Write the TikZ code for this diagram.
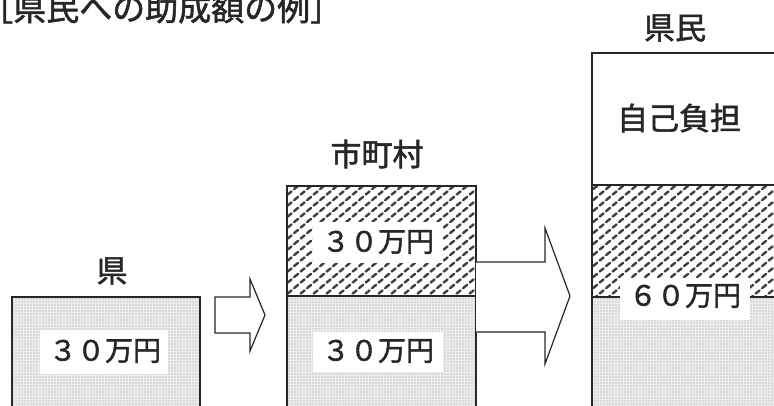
\documentclass[tikz,border=0pt]{standalone}
\usepackage{fontspec}
\newfontfamily\jp{Noto Sans CJK JP}[FakeBold=1.6]
\usetikzlibrary{patterns}
\pgfdeclarepatternformonly{myfdots}{\pgfqpoint{-1pt}{-1pt}}{\pgfqpoint{4pt}{4pt}}{\pgfqpoint{3pt}{3pt}}{%
  \pgfpathcircle{\pgfqpoint{1pt}{1pt}}{0.7pt}\pgfusepath{fill}}
\pgfdeclarepatternformonly{mybricks}{\pgfqpoint{-2pt}{-2pt}}{\pgfqpoint{15pt}{13pt}}{\pgfqpoint{13pt}{11pt}}{%
  \pgfsetlinewidth{2.4pt}\pgfsetroundcap
  \pgfpathmoveto{\pgfqpoint{1.6pt}{1.4pt}}\pgfpathlineto{\pgfqpoint{5.6pt}{4.6pt}}
  \pgfpathmoveto{\pgfqpoint{8.1pt}{6.9pt}}\pgfpathlineto{\pgfqpoint{12.1pt}{10.1pt}}
  \pgfusepath{stroke}}
\tikzset{
  dotted area/.style={fill=gray!14, postaction={pattern=myfdots, pattern color=gray!80}},
  brick area/.style={fill=white, postaction={pattern=mybricks, pattern color=black!75}},
  barline/.style={draw=black!85, line width=1.2pt},
  lbl/.style={font=\jp\fontsize{31}{31}\selectfont, text=black!85, inner sep=0pt},
  ttl/.style={font=\jp\fontsize{33}{33}\selectfont, text=black!85, inner sep=0pt},
  amt/.style={font=\jp\fontsize{28}{28}\selectfont, text=black!85, inner sep=0pt},
  blockarrow/.style={draw=black!85, line width=1.2pt, fill=white, line join=miter}
}
\begin{document}
\begin{tikzpicture}[x=1pt,y=-1pt]
\useasboundingbox (0,0) rectangle (774,405);
\clip (0,0) rectangle (774,405);

% title
\node[ttl, anchor=west] (title) at (-20,8) {［県民への助成額の例］};

% bar 1: 県
\fill[dotted area] (12,297) rectangle (200,420);
\draw[barline] (12,420) -- (12,297) -- (200,297) -- (200,420);
\node[lbl] (kenlbl) at (112,271) {県};
\fill[white] (40,330) rectangle (168,374);
\node[amt] (ken30) at (105,351) {３０万円};

% arrow 1
\draw[blockarrow] (215,297) -- (250,297) -- (250,279) -- (265,315) -- (250,351) -- (250,333) -- (215,333) -- cycle;

% bar 2: 市町村
\fill[brick area] (287,186) rectangle (476,296);
\fill[dotted area] (287,296) rectangle (476,420);
\draw[barline] (287,420) -- (287,186) -- (476,186) -- (476,420);
\draw[barline] (287,296) -- (476,296);
\node[lbl] (citylbl) at (377,154) {市町村};
\fill[white] (313,222) rectangle (443,263);
\node[amt] (city30a) at (378,242) {３０万円};
\fill[white] (313,332) rectangle (443,372);
\node[amt] (city30b) at (378,351) {３０万円};

% arrow 2
\draw[blockarrow] (476,262) -- (545,262) -- (545,228) -- (570,296) -- (545,364) -- (545,332) -- (476,332);

% bar 3: 県民
\fill[white] (592,53) rectangle (790,185);
\fill[brick area] (592,185) rectangle (790,297);
\fill[dotted area] (592,297) rectangle (790,420);
\draw[barline] (592,420) -- (592,53) -- (790,53);
\draw[barline] (592,185) -- (790,185);
\draw[barline] (592,297) -- (790,297);
\node[lbl] (kenminlbl) at (675,28) {県民};
\node[lbl] (jiko) at (679,118) {自己負担};
\fill[white] (620,278) rectangle (750,320);
\node[amt] (kenmin60) at (685,296) {６０万円};
\end{tikzpicture}
\end{document}
